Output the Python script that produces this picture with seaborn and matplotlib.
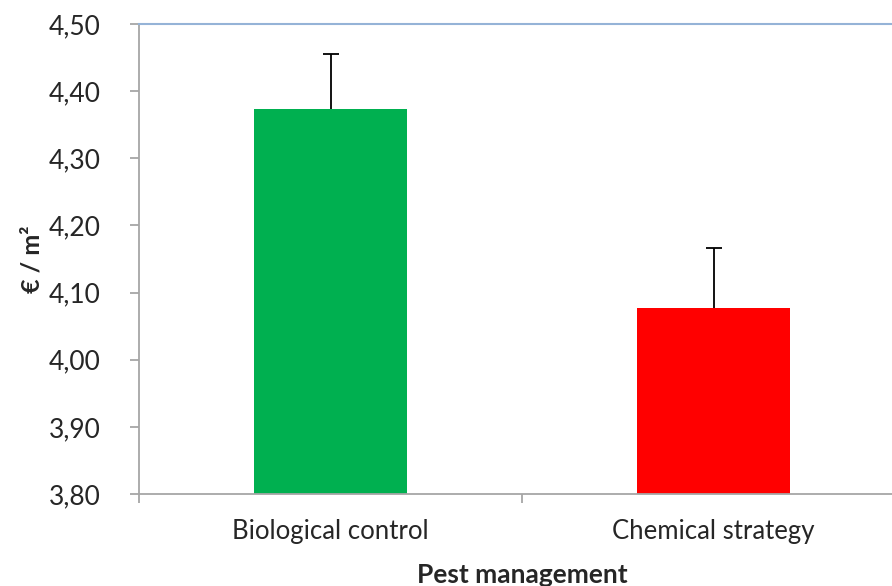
import matplotlib
matplotlib.use("Agg")
import matplotlib.pyplot as plt
import seaborn as sns
import pandas as pd
from matplotlib.ticker import FixedLocator

categories = ["Biological control", "Chemical strategy"]
values = [4.373, 4.077]
errors = [0.082, 0.089]
colors = ["#00B050", "#FF0000"]
yticks = [3.80, 3.90, 4.00, 4.10, 4.20, 4.30, 4.40, 4.50]

sns.set_style("white")
plt.rcParams["font.family"] = ["Lato", "DejaVu Sans"]

df = pd.DataFrame({"cat": categories, "val": values})

fig = plt.figure(figsize=(8.92, 5.86), dpi=100)
ax = fig.add_axes([139/892, 92/586, 766/892, 470/586])

sns.barplot(data=df, x="cat", y="val", hue="cat", palette=colors, legend=False,
            width=0.4, errorbar=None, ax=ax, saturation=1)
for p in ax.patches:
    p.set_edgecolor("none")

eb = ax.errorbar(range(len(values)), values, yerr=[[0]*len(errors), errors], fmt="none",
                 ecolor="black", elinewidth=1.3, capsize=6, capthick=1.3, zorder=3)
# hide the lower caps (errors shown upward only)
for cl in eb[1]:
    if all(abs(y - v) < 1e-9 for y, v in zip(cl.get_ydata(), values)):
        cl.set_visible(False)

ax.set_ylim(3.80, 4.50)
ax.set_xlim(-0.5, 1.5)
ax.set_yticks(yticks)
ax.set_yticklabels([f"{v:.2f}".replace(".", ",") for v in yticks], fontsize=19)
ax.set_xticks(range(len(categories)))
ax.set_xticklabels(categories, fontsize=18.5)
ax.xaxis.set_minor_locator(FixedLocator([-0.5, 0.5, 1.5]))
ax.tick_params(axis="x", which="major", length=0, pad=18)
ax.tick_params(axis="x", which="minor", length=6.5, width=1.3, color="#A6A6A6", direction="out", bottom=True)
ax.tick_params(axis="y", length=6.5, width=1.3, color="#A6A6A6", direction="out", left=True, pad=21)

for s in ["left", "bottom"]:
    ax.spines[s].set_color("#A6A6A6")
    ax.spines[s].set_linewidth(1.3)
ax.spines["right"].set_visible(False)
ax.spines["top"].set_color("#95B3D7")
ax.spines["top"].set_linewidth(1.5)

ax.set_xlabel("Pest management", fontsize=19, fontweight="bold", labelpad=14)
ax.set_ylabel("€ / m²", fontsize=18, fontweight="bold", labelpad=4)

fig.savefig("out.png", dpi=100)
